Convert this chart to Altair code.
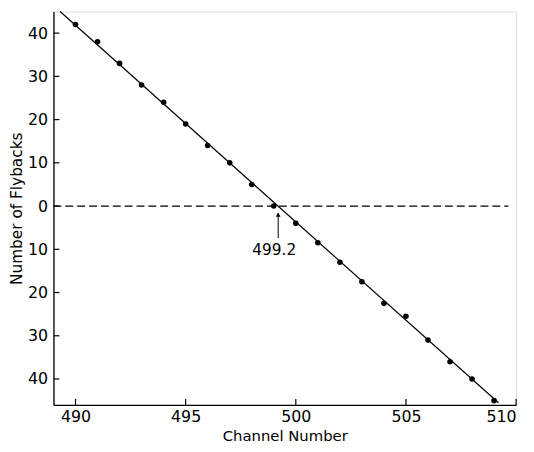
import altair as alt
import pandas as pd

channels = [490, 491, 492, 493, 494, 495, 496, 497, 498, 499,
            500, 501, 502, 503, 504, 505, 506, 507, 508, 509]
flybacks = [42, 38, 33, 28, 24, 19, 14, 10, 5, 0,
            -4, -8.5, -13, -17.5, -22.5, -25.5, -31, -36, -40, -45]

fit_x = [489.3, 509.2]
fit_y = [45.0, -45.5]

zero_x = [489, 509.65]
zero_y = [0, 0]

x_ticks = [490, 495, 500, 505, 510]
y_ticks = [-40, -30, -20, -10, 0, 10, 20, 30, 40]

crossing = 499.2
label_text = ["499.2"]

W, H = 468, 398
FONT = "DejaVu Sans"

xs = alt.Scale(domain=[489, 510], nice=False, zero=False)
ys = alt.Scale(domain=[-46, 45], nice=False, zero=False)

pts = pd.DataFrame({"ch": channels, "fb": flybacks})
fit = pd.DataFrame({"ch": fit_x, "fb": fit_y})
zero = pd.DataFrame({"ch": zero_x, "fb": zero_y})
xt = pd.DataFrame({"v": x_ticks})
yt = pd.DataFrame({"v": y_ticks})
arrow = pd.DataFrame({"ch": [crossing], "y1": [-7.4], "y2": [-1.6]})
head = pd.DataFrame({"ch": [crossing], "fb": [-2.0]})
lab = pd.DataFrame({"ch": [499.02], "fb": [-11.3], "t": label_text})

xaxis = alt.Axis(values=x_ticks, ticks=False, grid=False, domainColor="black",
                 domainWidth=1.3, labelFont=FONT, labelFontSize=16, labelColor="black",
                 labelPadding=4, title="Channel Number", titleFont=FONT,
                 titleFontSize=15, titleFontWeight="normal", titleColor="black",
                 titlePadding=4)
yaxis = alt.Axis(values=y_ticks, ticks=False, grid=False, domainColor="black",
                 domainWidth=1.3, labelFont=FONT, labelFontSize=16, labelColor="black",
                 labelPadding=6, labelExpr="abs(datum.value)",
                 title="Number of Flybacks", titleFont=FONT, titleFontSize=15.5,
                 titleFontWeight="normal", titleColor="black", titlePadding=3)

base_pts = alt.Chart(pts).mark_circle(size=32, color="black", opacity=1).encode(
    x=alt.X("ch:Q", scale=xs, axis=xaxis),
    y=alt.Y("fb:Q", scale=ys, axis=yaxis),
)

fit_line = alt.Chart(fit).mark_line(color="black", strokeWidth=1.2).encode(
    x=alt.X("ch:Q", scale=xs), y=alt.Y("fb:Q", scale=ys)
)

zero_line = alt.Chart(zero).mark_line(color="black", strokeWidth=1.2,
                                      strokeDash=[8, 4]).encode(
    x=alt.X("ch:Q", scale=xs), y=alt.Y("fb:Q", scale=ys)
)

xtick_marks = alt.Chart(xt).mark_rule(color="black", strokeWidth=1.2).encode(
    x=alt.X("v:Q", scale=xs), y=alt.value(H), y2=alt.value(H - 6)
)
ytick_marks = alt.Chart(yt).mark_rule(color="black", strokeWidth=1.2).encode(
    y=alt.Y("v:Q", scale=ys), x=alt.value(0), x2=alt.value(6)
)

arrow_rule = alt.Chart(arrow).mark_rule(color="black", strokeWidth=1).encode(
    x=alt.X("ch:Q", scale=xs), y=alt.Y("y1:Q", scale=ys), y2="y2:Q"
)
arrow_head = alt.Chart(head).mark_point(shape="triangle-up", filled=True,
                                        size=22, color="black", opacity=1).encode(
    x=alt.X("ch:Q", scale=xs), y=alt.Y("fb:Q", scale=ys)
)
label = alt.Chart(lab).mark_text(font=FONT, fontSize=15.5, color="black",
                                 align="center", baseline="alphabetic").encode(
    x=alt.X("ch:Q", scale=xs), y=alt.Y("fb:Q", scale=ys), text="t:N"
)

chart = alt.layer(
    zero_line, fit_line, base_pts, xtick_marks, ytick_marks,
    arrow_rule, arrow_head, label
).properties(
    width=W, height=H,
    autosize=alt.AutoSizeParams(type="none"),
    padding={"left": 46, "top": 1, "right": 10, "bottom": 42},
).configure_view(stroke=None).configure(background="white")

chart.save("out.html", embed_options={"renderer": "svg", "actions": False})
